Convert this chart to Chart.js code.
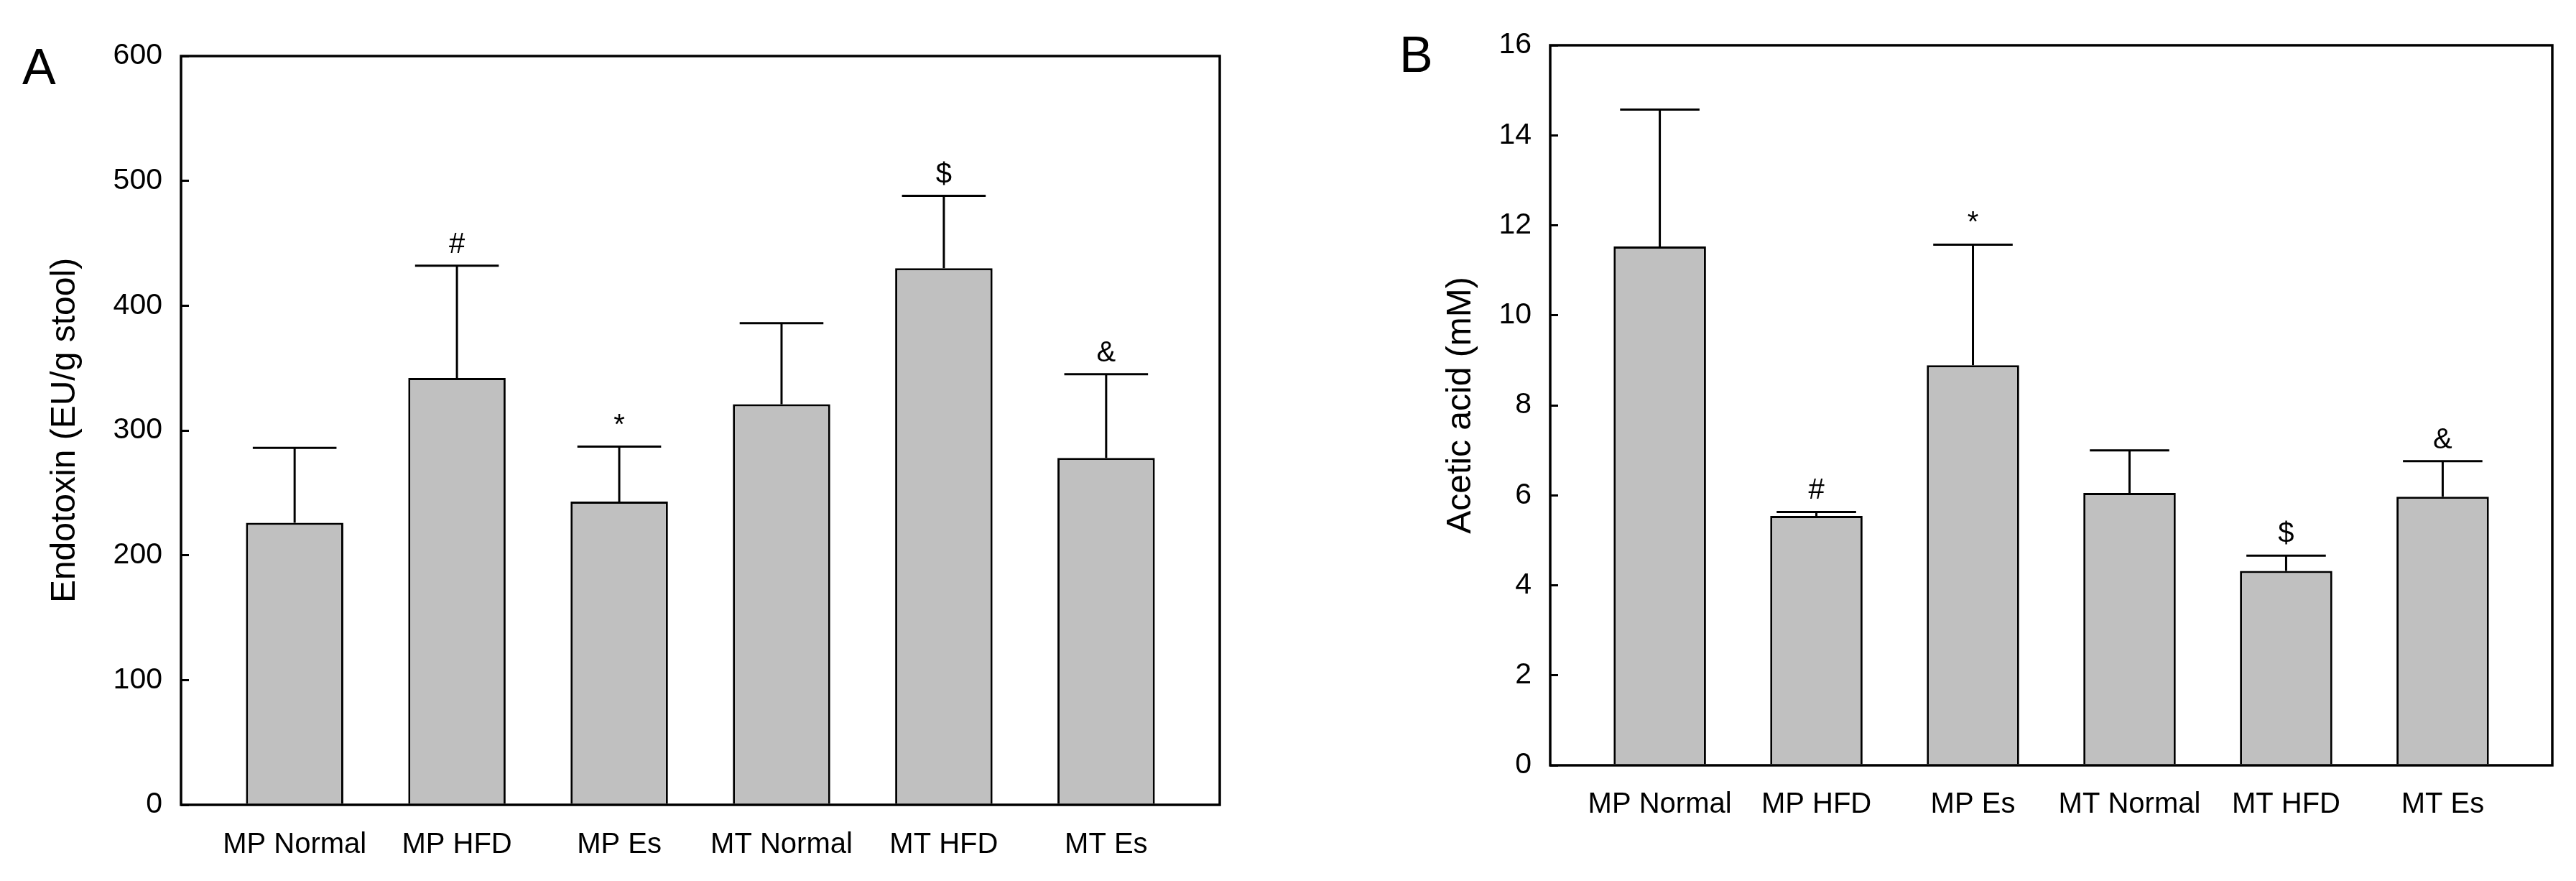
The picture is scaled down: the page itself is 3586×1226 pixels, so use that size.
<!DOCTYPE html>
<html>
<head>
<meta charset="utf-8">
<script src="https://cdn.jsdelivr.net/npm/chart.js@4.4.1/dist/chart.umd.min.js"></script>
<style>
  html, body { margin: 0; padding: 0; background: #fff; }
  body { width: 3586px; height: 1226px; position: relative; overflow: hidden; }
  canvas { position: absolute; top: 0; }
  #chartA { left: 0; }
  #chartB { left: 1760px; }
  .panel { position: absolute; font-family: "Liberation Sans", Arial, sans-serif; font-size: 70px; line-height: 1; color: #000; }
</style>
</head>
<body>
<div class="panel" style="left:31px; top:58px;">A</div>
<div class="panel" style="left:1948px; top:41px;">B</div>
<canvas id="chartA" width="1740" height="1226"></canvas>
<canvas id="chartB" width="1826" height="1226"></canvas>
<script>
// groups on the x axis (same for both panels)
const groups = ["MP Normal", "MP HFD", "MP Es", "MT Normal", "MT HFD", "MT Es"];

// panel A - endotoxin
const endotoxin = [226, 342, 243, 321, 430, 278];
const endotoxinErr = [60, 90, 44, 65, 58, 67];
const endotoxinMarks = ["", "#", "*", "", "$", "&"];
const endotoxinTicks = [0, 100, 200, 300, 400, 500, 600];

// panel B - acetic acid
const acetic = [11.53, 5.54, 8.89, 6.05, 4.32, 5.97];
const aceticErr = [3.04, 0.09, 2.68, 0.95, 0.34, 0.79];
const aceticMarks = ["", "#", "*", "", "$", "&"];
const aceticTicks = [0, 2, 4, 6, 8, 10, 12, 14, 16];

const narrow = "'Liberation Sans Narrow', 'Arial Narrow', 'Liberation Sans', Arial, sans-serif";
const sans = "'Liberation Sans', Arial, sans-serif";

// error bars, significance marks and the box round the plot
const errorBars = {
  id: "errorBars",
  afterDatasetsDraw(chart, args, opts) {
    const { ctx, chartArea: a } = chart;
    const yScale = chart.scales.y;
    const meta = chart.getDatasetMeta(0);
    const values = chart.data.datasets[0].data;
    ctx.save();
    ctx.strokeStyle = "#000";
    ctx.fillStyle = "#000";
    ctx.lineWidth = 3;
    ctx.font = "40px " + sans;
    ctx.textAlign = "center";
    ctx.textBaseline = "alphabetic";
    meta.data.forEach((bar, i) => {
      const { x, y, width } = bar.getProps(["x", "y", "width"], true);
      const top = yScale.getPixelForValue(values[i].y + opts.errors[i]);
      const half = width * 0.43;
      ctx.beginPath();
      ctx.moveTo(x, y);
      ctx.lineTo(x, top);
      ctx.moveTo(x - half, top);
      ctx.lineTo(x + half, top);
      ctx.stroke();
      if (opts.marks[i]) {
        ctx.fillText(opts.marks[i], x, top - 18);
      }
    });
    ctx.lineWidth = 3.5;
    ctx.strokeRect(a.left, a.top, a.width, a.height);
    ctx.restore();
  }
};

function makeChart(id, values, errors, marks, ticks, title, box) {
  const ctx = document.getElementById(id).getContext("2d");
  return new Chart(ctx, {
    type: "bar",
    data: {
      datasets: [{
        data: values.map((v, i) => ({ x: i + 1, y: v })),
        backgroundColor: "#c0c0c0",
        borderColor: "#000",
        borderWidth: 3,
        borderSkipped: "bottom",
        barPercentage: box.bar,
        categoryPercentage: 1
      }]
    },
    options: {
      responsive: false,
      animation: false,
      devicePixelRatio: 1,
      layout: { padding: { top: box.top, right: box.right, left: 0, bottom: 0 } },
      plugins: {
        legend: { display: false },
        tooltip: { enabled: false },
        errorBars: { errors: errors, marks: marks }
      },
      scales: {
        x: {
          type: "linear",
          min: 0.3,
          max: 6.7,
          offset: false,
          grid: { display: false, drawTicks: false },
          border: { display: false },
          afterBuildTicks: (s) => { s.ticks = groups.map((g, i) => ({ value: i + 1 })); },
          afterFit: (s) => { s.height = box.xHeight; },
          ticks: {
            autoSkip: false,
            maxRotation: 0,
            padding: box.xPad,
            color: "#000",
            font: { family: narrow, size: 40 },
            callback: (v) => groups[v - 1]
          }
        },
        y: {
          min: ticks[0],
          max: ticks[ticks.length - 1],
          afterBuildTicks: (s) => { s.ticks = ticks.map((t) => ({ value: t })); },
          afterFit: (s) => { s.width = box.yWidth; },
          grid: {
            drawOnChartArea: false,
            drawTicks: true,
            tickLength: -11,
            color: "#000",
            lineWidth: 3
          },
          border: { display: false },
          ticks: {
            padding: 37,
            color: "#000",
            font: { family: narrow, size: 41 }
          },
          title: {
            display: true,
            text: title,
            color: "#000",
            font: { family: sans, size: 48 },
            padding: { top: box.titlePad, bottom: 0 }
          }
        }
      }
    },
    plugins: [errorBars]
  });
}

makeChart("chartA", endotoxin, endotoxinErr, endotoxinMarks, endotoxinTicks,
  "Endotoxin (EU/g stool)",
  { top: 78, right: 42, yWidth: 252, xHeight: 106, xPad: 32, titlePad: 62, bar: 0.6 });

makeChart("chartB", acetic, aceticErr, aceticMarks, aceticTicks,
  "Acetic acid (mM)",
  { top: 63, right: 33, yWidth: 398, xHeight: 161, xPad: 31, titlePad: 245, bar: 0.59 });
</script>
</body>
</html>
